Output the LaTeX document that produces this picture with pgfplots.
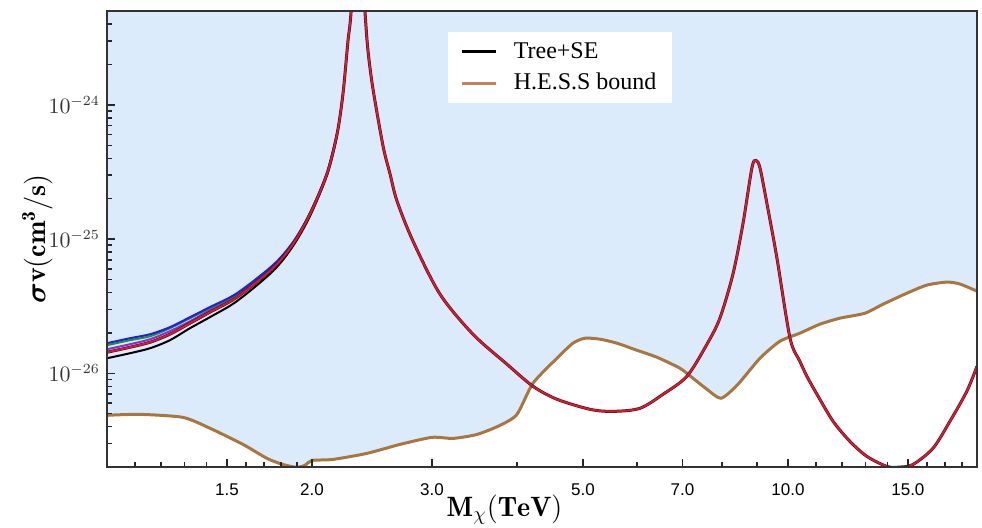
\documentclass[border=0pt]{standalone}
\usepackage{fontspec}
\usepackage{amsmath}
\usepackage{pgfplots}
\usepackage{pgfplotstable}
\pgfplotsset{compat=1.18}
\usetikzlibrary{calc}
\newfontfamily\tickfont{Liberation Sans}
\newfontfamily\legfont{Liberation Serif}
\definecolor{hessBrown}{HTML}{A87640}
\definecolor{hessLeg}{HTML}{C4805A}
\definecolor{allowBlue}{HTML}{DBEBFB}
\definecolor{seRed}{HTML}{F0102A}
\definecolor{sePurple}{HTML}{8A2BE2}
\definecolor{seGreen}{HTML}{1A9A1A}
\definecolor{seBlue}{HTML}{1E1EE6}

% Tree+SE, main curve (red, drawn on top)
\pgfplotstableread{
m sv
1.000 1.434e-26
1.081 1.563e-26
1.157 1.703e-26
1.237 1.954e-26
1.324 2.360e-26
1.416 2.852e-26
1.552 3.69e-26
1.753 6.07e-26
1.876 9.18e-26
1.987 1.537e-25
2.104 3.055e-25
2.177 6.07e-25
2.221 1.208e-24
2.259 3.003e-24
2.282 4.86e-24
2.337 3e-23
2.393 4.86e-24
2.417 2.53e-24
2.458 1.316e-24
2.543 4.94e-25
2.604 3.055e-25
2.666 1.921e-25
2.814 9.66e-26
3.083 3.89e-26
3.447 1.954e-26
3.868 1.167e-26
4.222 8.0e-27
4.579 6.40e-27
5.121 5.385e-27
5.534 5.20e-27
6.062 5.48e-27
6.554 6.97e-27
7.107 9.50e-27
7.604 1.646e-26
7.944 2.572e-26
8.302 5.48e-26
8.587 1.294e-25
8.852 3.39e-25
8.974 3.85e-25
9.097 3.39e-25
9.316 1.825e-25
9.634 7.21e-26
10.07 1.825e-26
10.41 1.229e-26
10.66 9.50e-27
11.03 6.97e-27
11.65 4.38e-27
12.33 3.11e-27
13.06 2.40e-27
13.98 2.02e-27
14.60 2.00e-27
15.26 2.09e-27
16.33 2.76e-27
17.29 4.38e-27
18.31 7.34e-27
18.95 1.128e-26
}\redcurve

\pgfplotstableread{
m sv
1.000 1.294e-26
1.081 1.410e-26
1.157 1.537e-26
1.237 1.763e-26
1.324 2.167e-26
1.416 2.617e-26
1.552 3.447e-26
1.753 5.77e-26
1.876 8.87e-26
1.987 1.485e-25
2.104 3.003e-25
2.177 5.97e-25
2.221 1.208e-24
}\blackleft

\pgfplotstableread{
m sv
1.000 1.510e-26
1.081 1.646e-26
1.157 1.794e-26
1.237 2.06e-26
1.324 2.44e-26
1.416 2.95e-26
1.552 3.82e-26
1.753 6.18e-26
1.876 9.34e-26
1.987 1.537e-25
2.104 3.055e-25
2.177 6.07e-25
}\purpleleft

\pgfplotstableread{
m sv
1.000 1.618e-26
1.081 1.763e-26
1.157 1.888e-26
1.237 2.167e-26
1.324 2.572e-26
1.416 3.055e-26
1.552 3.89e-26
1.753 6.29e-26
1.876 9.34e-26
1.987 1.563e-25
2.104 3.055e-25
2.177 6.07e-25
}\greenleft

\pgfplotstableread{
m sv
1.000 1.675e-26
1.081 1.825e-26
1.157 1.954e-26
1.237 2.204e-26
1.324 2.617e-26
1.416 3.11e-26
1.552 3.95e-26
1.753 6.40e-26
1.876 9.50e-26
1.987 1.563e-25
2.104 3.11e-25
2.177 6.07e-25
}\blueleft

% H.E.S.S bound
\pgfplotstableread{
m sv
1.000 4.86e-27
1.118 4.94e-27
1.293 4.69e-27
1.417 3.89e-27
1.584 2.95e-27
1.718 2.32e-27
1.813 2.09e-27
1.901 1.99e-27
1.953 2.06e-27
2.000 2.24e-27
2.147 2.28e-27
2.409 2.53e-27
2.693 2.95e-27
3.001 3.33e-27
3.222 3.27e-27
3.494 3.50e-27
3.777 4.09e-27
4.000 4.94e-27
4.222 8.42e-27
4.579 1.294e-26
4.834 1.675e-26
5.034 1.825e-26
5.296 1.794e-26
5.609 1.675e-26
6.000 1.484e-26
6.421 1.316e-26
6.940 1.09e-26
7.252 9.18e-27
7.604 7.60e-27
7.973 6.51e-27
8.418 8.13e-27
9.097 1.294e-26
9.734 1.733e-26
10.41 1.989e-26
11.14 2.32e-26
11.92 2.572e-26
12.97 2.80e-26
13.79 3.27e-26
14.95 3.95e-26
16.00 4.54e-26
17.12 4.78e-26
17.89 4.62e-26
18.95 4.09e-26
}\hess

% allowed region above the H.E.S.S bound (bound + top corners)
\pgfplotstableread{
m sv
1.000 4.86e-27
1.118 4.94e-27
1.293 4.69e-27
1.417 3.89e-27
1.584 2.95e-27
1.718 2.32e-27
1.813 2.09e-27
1.901 1.99e-27
1.953 2.06e-27
2.000 2.24e-27
2.147 2.28e-27
2.409 2.53e-27
2.693 2.95e-27
3.001 3.33e-27
3.222 3.27e-27
3.494 3.50e-27
3.777 4.09e-27
4.000 4.94e-27
4.222 8.42e-27
4.579 1.294e-26
4.834 1.675e-26
5.034 1.825e-26
5.296 1.794e-26
5.609 1.675e-26
6.000 1.484e-26
6.421 1.316e-26
6.940 1.09e-26
7.252 9.18e-27
7.604 7.60e-27
7.973 6.51e-27
8.418 8.13e-27
9.097 1.294e-26
9.734 1.733e-26
10.41 1.989e-26
11.14 2.32e-26
11.92 2.572e-26
12.97 2.80e-26
13.79 3.27e-26
14.95 3.95e-26
16.00 4.54e-26
17.12 4.78e-26
17.89 4.62e-26
18.95 4.09e-26
18.95 5e-24
1.000 5e-24
}\allowed

\begin{document}
\begin{tikzpicture}
\begin{axis}[
  name=ax, axis on top,
  scale only axis, width=435pt, height=228pt,
  xmode=log, ymode=log,
  xmin=1, xmax=18.95, ymin=2e-27, ymax=5e-24,
  axis line style={black!80, line width=0.6pt},
  tick pos=left, tick align=inside,
  major tick length=4pt, minor tick length=2.5pt,
  every tick/.style={black!85, line width=0.7pt},
  xtick={1.5,2,3,5,7,10,15},
  xticklabels={1.5,2.0,3.0,5.0,7.0,10.0,15.0},
  minor xtick={1.1,1.2,1.3,1.4,1.6,1.7,1.8,1.9,4,6,8,9,11,12,13,14,16,17,18},
  ytick={1e-26,1e-25,1e-24},
  minor ytick={3e-27,4e-27,5e-27,6e-27,7e-27,8e-27,9e-27,
    2e-26,3e-26,4e-26,5e-26,6e-26,7e-26,8e-26,9e-26,
    2e-25,3e-25,4e-25,5e-25,6e-25,7e-25,8e-25,9e-25,
    2e-24,3e-24,4e-24},
  xticklabel style={font=\tickfont\fontsize{8.5}{10}\selectfont, anchor=center, yshift=-11.5pt},
  yticklabel style={font=\fontsize{10.5}{12}\selectfont, text=black!80},
  xlabel={$\mathbf{M_{\chi}(TeV)}$},
  ylabel={$\boldsymbol{\sigma}\mathbf{v(cm^3/s)}$},
  xlabel style={at={(axis description cs:0.457,-0.094)}, anchor=center, font=\fontsize{14}{16}\selectfont},
  ylabel style={at={(axis description cs:-0.08,0.5)}, anchor=center, font=\fontsize{14}{16}\selectfont},
  legend style={at={(0.392,0.954)}, anchor=north west, draw=none, fill=white,
    font=\legfont\fontsize{12}{14}\selectfont, inner xsep=6pt, inner ysep=3pt, row sep=2pt},
  legend cell align=left,
]
\addlegendimage{black, line width=1.6pt}
\addlegendentry{\hspace{6pt}Tree+SE}
\addlegendimage{hessLeg, line width=1.6pt}
\addlegendentry{\hspace{6pt}H.E.S.S bound}

\addplot[fill=allowBlue, draw=none, forget plot] table {\allowed};
\addplot[hessBrown, line width=1.5pt, smooth, tension=0.4, forget plot] table {\hess};

\addplot[black, line width=1pt, smooth, forget plot] table {\blackleft};
\addplot[sePurple, line width=1pt, smooth, forget plot] table {\purpleleft};
\addplot[seGreen, line width=1pt, smooth, forget plot] table {\greenleft};
\addplot[seBlue, line width=1pt, smooth, forget plot] table {\blueleft};
\addplot[black!85, line width=1.5pt, smooth, forget plot] table {\redcurve};
\addplot[seRed, line width=0.9pt, smooth, forget plot] table {\redcurve};
\end{axis}
\pgfresetboundingbox
\path[use as bounding box] ($(ax.south west)+(-53.5pt,-30pt)$) rectangle ($(ax.north east)+(2.5pt,5.5pt)$);
\end{tikzpicture}
\end{document}
